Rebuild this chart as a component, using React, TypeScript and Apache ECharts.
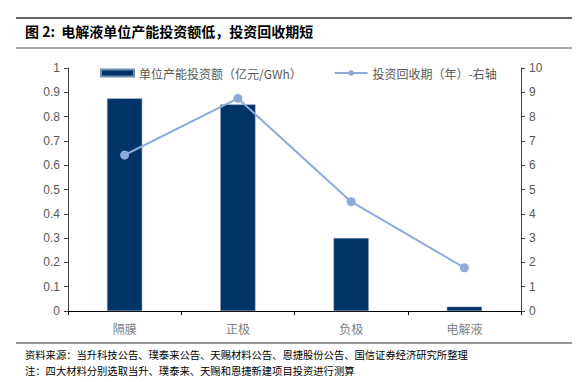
import React, { useEffect, useRef } from "react";
import * as echarts from "echarts";

const categories = ["隔膜", "正极", "负极", "电解液"];
const investPerGWh = [0.875, 0.85, 0.3, 0.018];
const paybackYears = [6.42, 8.75, 4.5, 1.78];
const leftTicks = { min: 0, max: 1, interval: 0.1 };
const rightTicks = { min: 0, max: 10, interval: 1 };

const barName = "单位产能投资额（亿元/GWh）";
const lineName = "投资回收期（年）-右轴";
const titleText = "图 2:  电解液单位产能投资额低，投资回收期短";
const source1 = "资料来源：当升科技公告、璞泰来公告、天赐材料公告、恩捷股份公告、国信证券经济研究所整理";
const source2 = "注：四大材料分别选取当升、璞泰来、天赐和恩捷新建项目投资进行测算";

const FONT = "'Noto Sans CJK SC', 'Noto Sans', sans-serif";
const GREY = "#595959";

export default function App() {
  const ref = useRef<HTMLDivElement>(null);
  useEffect(() => {
    if (!ref.current) return;
    const chart = echarts.init(ref.current, undefined, { renderer: "svg" });
    chart.setOption({
      animation: false,
      backgroundColor: "#ffffff",
      textStyle: { fontFamily: FONT },
      grid: { left: 68, right: 58, top: 68, bottom: 71 },
      legend: {
        top: 62,
        left: 95,
        itemGap: 32,
        itemWidth: 33,
        itemHeight: 7,
        textStyle: { color: GREY, fontSize: 12, fontFamily: FONT },
        data: [
          { name: barName, icon: "rect" },
          { name: lineName },
        ],
      },
      xAxis: {
        type: "category",
        data: categories,
        boundaryGap: true,
        axisLine: { lineStyle: { color: "#000000", width: 1 } },
        axisTick: { show: true, length: 4, alignWithLabel: false, lineStyle: { color: "#000000" } },
        axisLabel: { color: "#7f7f7f", fontSize: 12, margin: 11, fontFamily: FONT },
      },
      yAxis: [
        {
          type: "value",
          min: leftTicks.min,
          max: leftTicks.max,
          interval: leftTicks.interval,
          splitLine: { show: false },
          axisLine: { show: true, lineStyle: { color: "#404040" } },
          axisTick: { show: true, length: 4, lineStyle: { color: "#404040" } },
          axisLabel: { color: GREY, fontSize: 12, margin: 8, fontFamily: "Liberation Sans, Arial, sans-serif" },
        },
        {
          type: "value",
          min: rightTicks.min,
          max: rightTicks.max,
          interval: rightTicks.interval,
          position: "right",
          splitLine: { show: false },
          axisLine: { show: true, lineStyle: { color: "#404040" } },
          axisTick: { show: true, length: 4, lineStyle: { color: "#404040" } },
          axisLabel: { color: GREY, fontSize: 12, margin: 8, fontFamily: "Liberation Sans, Arial, sans-serif" },
        },
      ],
      series: [
        {
          name: barName,
          type: "bar",
          yAxisIndex: 0,
          data: investPerGWh,
          barWidth: "31%",
          itemStyle: { color: "#003366", borderColor: "#6f8fb5", borderWidth: 0.5 },
        },
        {
          name: lineName,
          type: "line",
          yAxisIndex: 1,
          data: paybackYears,
          symbol: "circle",
          symbolSize: 9,
          lineStyle: { color: "#8eaadb", width: 2 },
          itemStyle: { color: "#8eaadb" },
        },
      ],
      graphic: [
        { type: "line", shape: { x1: 16, y1: 18, x2: 572, y2: 18 }, style: { stroke: "#333333", lineWidth: 1.5 } },
        {
          type: "text",
          left: 25,
          top: 24,
          style: { text: titleText, fill: "#000000", font: `bold 14px ${FONT}` },
        },
        { type: "line", shape: { x1: 16, y1: 48, x2: 572, y2: 48 }, style: { stroke: "#555555", lineWidth: 1 } },
        { type: "line", shape: { x1: 16, y1: 343, x2: 572, y2: 343 }, style: { stroke: "#333333", lineWidth: 1 } },
        {
          type: "text",
          left: 25,
          top: 349,
          style: { text: source1, fill: "#000000", font: `10.3px ${FONT}` },
        },
        {
          type: "text",
          left: 25,
          top: 365,
          style: { text: source2, fill: "#000000", font: `10.3px ${FONT}` },
        },
      ],
    });
    return () => chart.dispose();
  }, []);
  return <div ref={ref} style={{ width: 579, height: 382, position: "absolute", left: 0, top: 0 }} />;
}
